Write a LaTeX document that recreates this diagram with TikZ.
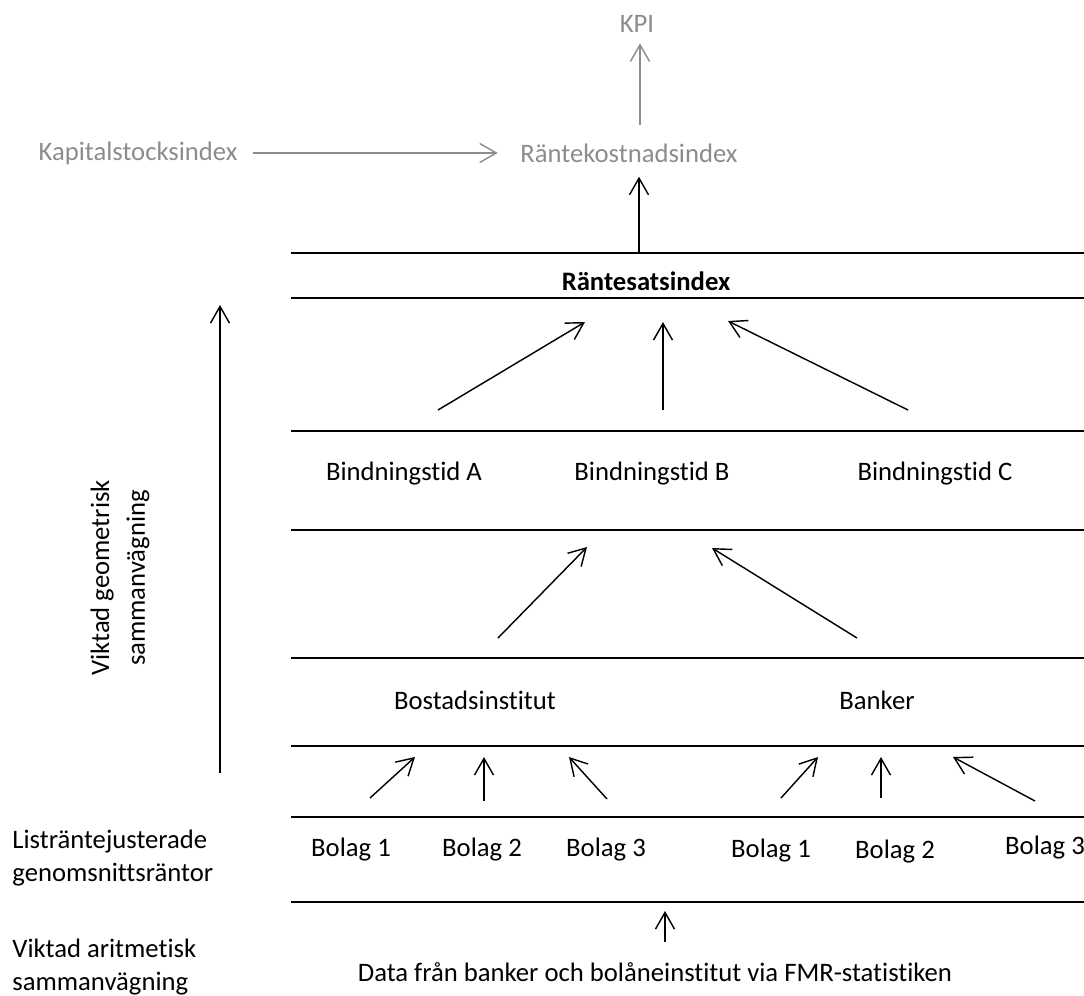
\documentclass[tikz,border=0pt]{standalone}
\usepackage{fontspec}
\setmainfont{Carlito}[Ligatures=NoCommon]
\usetikzlibrary{arrows.meta}

\begin{document}
\begin{tikzpicture}[x=0.42pt, y=-0.42pt, font=\fontsize{11.2}{13.5}\selectfont,
    arr/.style={-{Straight Barb[length=7pt,width=8pt]}, line width=0.6pt},
    sep/.style={line width=0.9pt},
    greytext/.style={text=black!45},
    greyarr/.style={arr, draw=black!45}]
    \useasboundingbox (0,0) rectangle (1084,995);

    % Top level, in grey
    \node[greytext] (kpi) at (637,24) {KPI};
    \node[greytext] (kapital) at (138,153) {Kapitalstocksindex};
    \node[greytext] (rkostnad) at (629,153) {Räntekostnadsindex};
    \coordinate (kpiarr) at (640,125);
    \draw[greyarr,shorten <=3pt,shorten >=6pt] (kapital.east) -- (rkostnad.west);
    \draw[greyarr,shorten >=1pt] (kpiarr) -- (kpi.south -| kpiarr);

    % Draw the separating lines
    \draw[sep] (291,253) -- (1084,253);
    \draw[sep] (291,298) -- (1084,298);
    \draw[sep] (291,431) -- (1084,431);
    \draw[sep] (291,530) -- (1084,530);
    \draw[sep] (291,658) -- (1084,658);
    \draw[sep] (291,746) -- (1084,746);
    \draw[sep] (291,817) -- (1084,817);
    \draw[sep] (291,902) -- (1084,902);

    % Levels
    \node (rsats) at (646,281) {\bfseries Räntesatsindex};
    \node (bindA) at (404,474) {Bindningstid A};
    \node (bindB) at (652,474) {Bindningstid B};
    \node (bindC) at (935,474) {Bindningstid C};
    \node (bostad) at (475,700) {Bostadsinstitut};
    \node (banker) at (877,700) {Banker};
    \node (bolag1) at (351,850) {Bolag 1};
    \node (bolag2) at (482,850) {Bolag 2};
    \node (bolag3) at (606,850) {Bolag 3};
    \node (bolag4) at (771,851) {Bolag 1};
    \node (bolag5) at (895,852) {Bolag 2};
    \node (bolag6) at (1045,848) {Bolag 3};
    \node (data) at (655,972) {Data från banker och bolåneinstitut via FMR-statistiken};

    % Labels on the left
    \node[anchor=west, align=left] (lista) at (4,858) {Listräntejusterade\\genomsnittsräntor};
    \node[anchor=west, align=left] (arit) at (4,967) {Viktad aritmetisk\\sammanvägning};
    \node[rotate=90, align=center, font=\fontsize{11.2}{15}\selectfont] (geom) at (120,578) {Viktad geometrisk\\sammanvägning};

    % Arrow ends
    \coordinate (top) at (639,253);
    \coordinate (g1) at (220,773);  \coordinate (g2) at (220,305);
    \coordinate (r1) at (438,410);  \coordinate (r1t) at (585,322);
    \coordinate (r2) at (663,410);  \coordinate (r2t) at (663,322);
    \coordinate (r3) at (908,410);  \coordinate (r3t) at (728,321);
    \coordinate (b1) at (498,638);  \coordinate (b1t) at (587,547);
    \coordinate (b2) at (857,638);  \coordinate (b2t) at (712,548);
    \coordinate (k1) at (370,798);  \coordinate (k1t) at (415,757);
    \coordinate (k2) at (484,801);  \coordinate (k2t) at (484,757);
    \coordinate (k3) at (607,799);  \coordinate (k3t) at (569,757);
    \coordinate (k4) at (781,798);  \coordinate (k4t) at (818,757);
    \coordinate (k5) at (881,798);  \coordinate (k5t) at (881,757);
    \coordinate (k6) at (1035,801); \coordinate (k6t) at (953,757);
    \coordinate (d1) at (665,942);  \coordinate (d1t) at (665,911);

    % Draw the arrows
    \draw[arr,shorten >=2.5pt] (top) -- (rkostnad.south -| top);
    \draw[arr] (g1) -- (g2);
    \draw[arr] (r1) -- (r1t);
    \draw[arr] (r2) -- (r2t);
    \draw[arr] (r3) -- (r3t);
    \draw[arr] (b1) -- (b1t);
    \draw[arr] (b2) -- (b2t);
    \draw[arr] (k1) -- (k1t);
    \draw[arr] (k2) -- (k2t);
    \draw[arr] (k3) -- (k3t);
    \draw[arr] (k4) -- (k4t);
    \draw[arr] (k5) -- (k5t);
    \draw[arr] (k6) -- (k6t);
    \draw[arr] (d1) -- (d1t);

\end{tikzpicture}
\end{document}
